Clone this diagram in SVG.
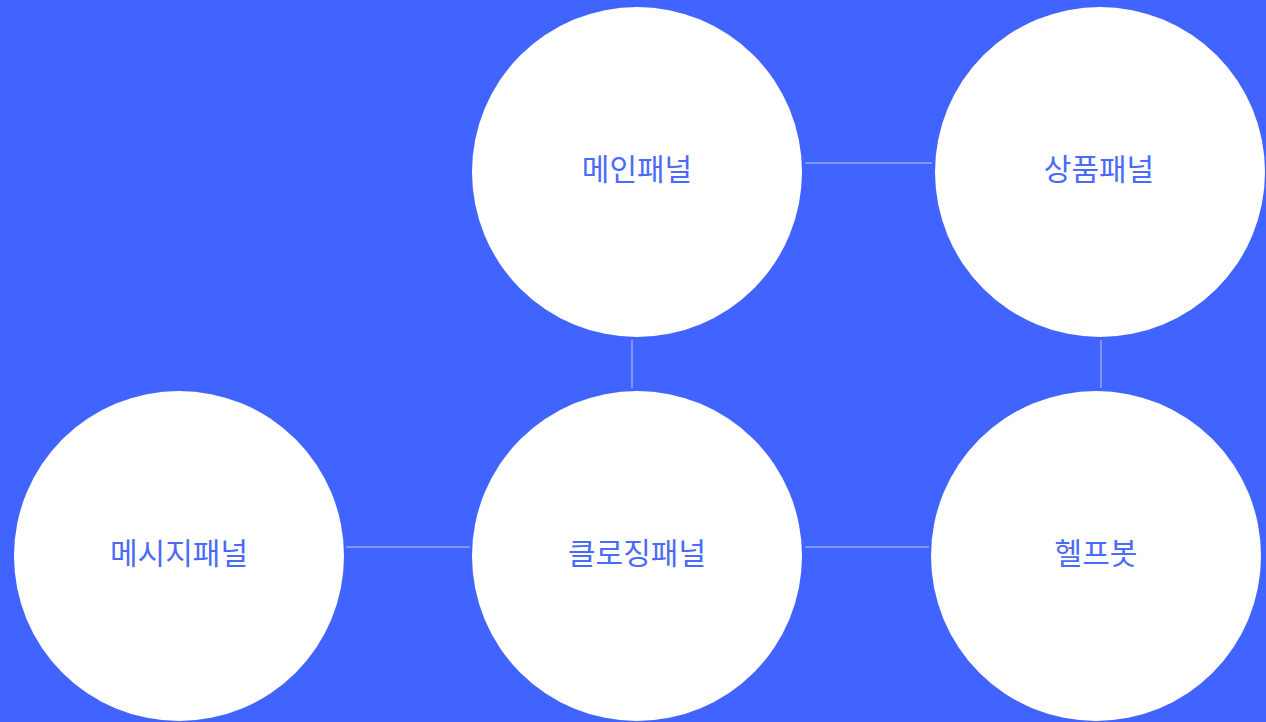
<svg xmlns="http://www.w3.org/2000/svg" width="1266" height="722" viewBox="0 0 1266 722">
<style>
.n{fill:#ffffff}
.t{font-family:"Noto Sans CJK KR","Noto Sans",sans-serif;font-size:30px;fill:#4a6af8;text-anchor:middle;dominant-baseline:central}
.c{stroke:#8097ff;stroke-width:2;fill:none}
</style>
<rect width="1266" height="722" fill="#4163ff"/>
<g id="connectors">
<line class="c" x1="805" y1="163" x2="932" y2="163"/>
<line class="c" x1="632" y1="340" x2="632" y2="388"/>
<line class="c" x1="1101" y1="340" x2="1101" y2="388"/>
<line class="c" x1="346" y1="547" x2="470" y2="547"/>
<line class="c" x1="805" y1="547" x2="929" y2="547"/>
</g>
<g id="main"><circle class="n" cx="637" cy="172" r="165"/><text class="t" x="637" y="167">메인패널</text></g>
<g id="product"><circle class="n" cx="1100" cy="172" r="165"/><text class="t" x="1099" y="167">상품패널</text></g>
<g id="message"><circle class="n" cx="179" cy="556" r="165"/><text class="t" x="179" y="551">메시지패널</text></g>
<g id="closing"><circle class="n" cx="637" cy="556" r="165"/><text class="t" x="637" y="551">클로징패널</text></g>
<g id="helpbot"><circle class="n" cx="1096" cy="556" r="165"/><text class="t" x="1096" y="551">헬프봇</text></g>
</svg>
